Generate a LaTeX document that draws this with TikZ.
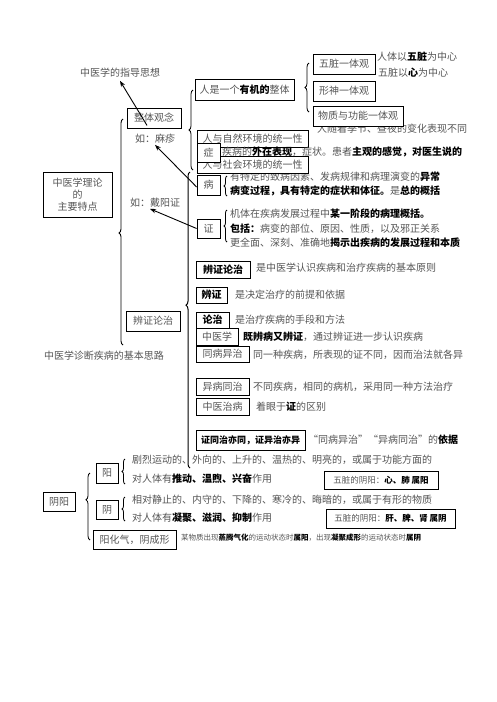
\documentclass[tikz,border=0pt]{standalone}
\usepackage{fontspec}
\newfontfamily\cjk{Noto Sans CJK SC}
\usetikzlibrary{arrows.meta,decorations.pathreplacing}
\definecolor{tg}{RGB}{85,85,85}
\newcommand\hb[1]{{\bfseries\color{black}#1}}
\begin{document}
\begin{tikzpicture}[x=1pt,y=-1pt,
  tx/.style={inner sep=0pt, anchor=west, text=tg, font=\cjk\fontsize{10}{12}\selectfont},
  bx/.style={draw=black, line width=0.8pt, fill=white, inner sep=0pt, text=tg, font=\cjk\fontsize{10}{12}\selectfont},
  arr/.style={line width=0.9pt, -{Stealth[length=6pt,width=4.5pt]}},
  brc/.style={line width=0.8pt, decorate},
]
\fill[white] (0,0) rectangle (496,702);
\useasboundingbox (0,0) rectangle (496,702);

% ---------- left column ----------
\node[tx, anchor=center] (zd) at (120,73) {中医学的指导思想};
\node[bx, minimum width=54pt, minimum height=20pt] (zt) at (154,118) {整体观念};
\node[tx, anchor=center] (mz) at (155,139) {如：麻疹};
\node[bx, minimum width=69pt, minimum height=45pt, align=center] (main) at (77.5,194.5) {中医学理论\\的\\主要特点};
\node[tx, anchor=center] (dy) at (155,203) {如：戴阳证};
\node[bx, minimum width=54pt, minimum height=20pt] (bzl) at (153,321) {辨证论治};
\node[tx, anchor=center] (zdsl) at (104,356) {中医学诊断疾病的基本思路};

% big braces
\draw[brc, line width=0.9pt, decoration={brace, amplitude=4pt, aspect=0.496}] (123,345) -- (123,119);
\draw[brc, line width=1pt, decoration={brace, amplitude=4pt, aspect=0.55}] (190,468) -- (190,172);
\draw[brc, decoration={brace, amplitude=4pt, aspect=0.5}] (193,170) -- (193,90);

% ---------- top right: 整体观念 ----------
\node[bx, minimum width=99pt, minimum height=21pt] (ytz) at (244.5,89.5) {人是一个\hb{有机的}整体};
\draw[brc, decoration={brace, amplitude=4pt, aspect=0.5}] (309,112) -- (309,63);
\node[bx, minimum width=62pt, minimum height=20pt] (wz) at (344,64) {五脏一体观};
\node[tx] (wz1) at (377,57) {人体以\hb{五脏}为中心};
\node[tx] (wz2) at (378,73) {五脏以\hb{心}为中心};
\node[bx, minimum width=62pt, minimum height=20pt] (xs) at (344,91) {形神一体观};
\node[tx] (jj) at (317,129) {人随着季节、昼夜的变化表现不同};
\node[bx, minimum width=90pt, minimum height=20pt] (wzgn) at (358,116) {物质与功能一体观};

\node[bx, minimum width=111pt, minimum height=17pt] (zr) at (252.5,138.5) {人与自然环境的统一性};
\node[tx] (zht) at (222,152) {疾病的\hb{外在表现}，症状。患者\hb{主观的感觉，对医生说的}};
\node[tx] (bt1) at (230,177) {有特定的致病因素、发病规律和病理演变的\hb{异常}};
\node[tx] (bt2) at (230,191) {\hb{病变过程，具有特定的症状和体征。}是\hb{总的概括}};
\node[bx, minimum width=111pt, minimum height=17pt] (rs) at (252.5,164.5) {人与社会环境的统一性};
\node[bx, minimum width=23pt, minimum height=19pt] (zheng) at (208.5,152.5) {症};
\node[bx, minimum width=23pt, minimum height=20pt] (bing) at (208.5,185) {病};
\draw[brc, decoration={brace, amplitude=3pt, aspect=0.5}] (227,196) -- (227,176);

\node[bx, minimum width=23pt, minimum height=19pt] (zbox) at (208.5,228.5) {证};
\draw[brc, decoration={brace, amplitude=3pt, aspect=0.5}] (227,242) -- (227,210);
\node[tx] (zt1) at (230,214) {机体在疾病发展过程中\hb{某一阶段的病理概括。}};
\node[tx] (zt2) at (230,229) {\hb{包括：}病变的部位、原因、性质，以及邪正关系};
\node[tx] (zt3) at (230,243) {更全面、深刻、准确地\hb{揭示出疾病的发展过程和本质}};

% ---------- 辨证论治 ----------
\node[bx, minimum width=54pt, minimum height=17pt, text=black, font=\cjk\bfseries\fontsize{10}{12}\selectfont] (bzlz) at (223,269.5) {辨证论治};
\node[tx] (t1) at (256,268) {是中医学认识疾病和治疗疾病的基本原则};
\node[bx, minimum width=31pt, minimum height=16pt, text=black, font=\cjk\bfseries\fontsize{10}{12}\selectfont] (bz) at (211.5,295) {辨证};
\node[tx] (t2) at (235,295) {是决定治疗的前提和依据};
\node[bx, minimum width=42pt, minimum height=17pt] (zyx) at (217,336.5) {中医学};
\node[bx, minimum width=33pt, minimum height=16pt, text=black, font=\cjk\bfseries\fontsize{10}{12}\selectfont] (lz) at (212.5,320) {论治};
\node[tx] (t3) at (235,320) {是治疗疾病的手段和方法};
\node[tx] (t4) at (243,337) {\hb{既辨病又辨证}，通过辨证进一步认识疾病};
\node[bx, minimum width=53pt, minimum height=16pt] (tbyz) at (222.5,354) {同病异治};
\node[tx] (t5) at (253,355) {同一种疾病，所表现的证不同，因而治法就各异};
\node[bx, minimum width=53pt, minimum height=17pt] (ybtz) at (222.5,386.5) {异病同治};
\node[tx] (t6) at (253,387) {不同疾病，相同的病机，采用同一种方法治疗};
\node[bx, minimum width=53pt, minimum height=17pt] (zyzb) at (222.5,406.5) {中医治病};
\node[tx] (t7) at (256,407) {着眼于\hb{证}的区别};
\node[bx, minimum width=109pt, minimum height=20pt, text=black, font=\cjk\bfseries\fontsize{9}{11}\selectfont] (ztzy) at (250.5,440) {证同治亦同，证异治亦异};
\node[tx] (t8) at (308,440) {“同病异治”“异病同治”的\hb{依据}};

% ---------- 阴阳 ----------
\node[bx, minimum width=32pt, minimum height=19pt] (yy) at (59,501.5) {阴阳};
\draw[brc, decoration={brace, amplitude=4pt, aspect=0.6}] (90,540) -- (90,473);
\node[bx, minimum width=22pt, minimum height=20pt] (yang) at (107,473) {阳};
\draw[brc, decoration={brace, amplitude=3pt, aspect=0.5}] (125,484) -- (125,459);
\node[tx] (y1) at (132,460) {剧烈运动的、外向的、上升的、温热的、明亮的，或属于功能方面的};
\node[tx] (y2) at (132,479) {对人体有\hb{推动、温煦、兴奋}作用};
\node[bx, minimum width=22pt, minimum height=19pt] (yin) at (107,509.5) {阴};
\draw[brc, decoration={brace, amplitude=3pt, aspect=0.5}] (125,521) -- (125,497);
\node[tx] (y3) at (132,500) {相对静止的、内守的、下降的、寒冷的、晦暗的，或属于有形的物质};
\node[tx] (y4) at (132,518) {对人体有\hb{凝聚、滋润、抑制}作用};
\node[bx, minimum width=83pt, minimum height=19pt] (yhq) at (134.5,539.5) {阳化气，阴成形};
\node[tx, font=\cjk\fontsize{7.5}{9}\selectfont] (y5) at (181,538) {某物质出现\hb{蒸腾气化}的运动状态时\hb{属阳}，出现\hb{凝聚成形}的运动状态时\hb{属阴}};
\node[bx, minimum width=114pt, minimum height=18pt, font=\cjk\fontsize{8.5}{10}\selectfont] (wy1) at (381,480) {五脏的阴阳：\hb{心、肺 属阳}};
\node[bx, minimum width=129pt, minimum height=19pt, font=\cjk\fontsize{8.5}{10}\selectfont] (wy2) at (390.5,518.5) {五脏的阴阳：\hb{肝、脾、肾 属阴}};

% ---------- arrows ----------
\draw[arr] ([xshift=-7pt,yshift=3pt]zt.south) -- ([yshift=-3pt]zd.south);
\draw[arr] ([yshift=-2pt]bing.west) -- ([yshift=-1pt]mz.south);
\draw[arr] (zbox.west) -- ([xshift=-5pt,yshift=-1pt]dy.south);
\end{tikzpicture}
\end{document}
